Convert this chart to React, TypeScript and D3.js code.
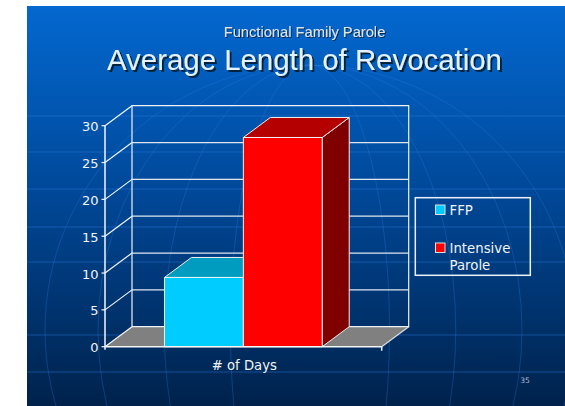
import { useEffect, useRef } from "react";
import * as d3 from "d3";

const seriesNames = ["FFP", "Intensive Parole"];
const seriesValues = [9.4, 28.4];
const categories = ["# of Days"];
const yTicks = [0, 5, 10, 15, 20, 25, 30];
const frontColors = ["#00ccff", "#ff0000"];
const topColors = ["#009cc0", "#b40000"];
const sideColors = ["#007494", "#800000"];
const bgLinesY = [116, 152, 189, 227, 262, 335, 372];

const W = 565;
const H = 406;
// front plane of the plot and the 3D depth offset
const P = { left: 105, right: 381.7, top: 125.7, bottom: 346.7 };
const DX = 27;
const DY = -20;
const FONT = "DejaVu Sans, Verdana, sans-serif";

export default function App() {
  const svgRef = useRef<SVGSVGElement | null>(null);

  useEffect(() => {
    document.body.style.margin = "0";
    const el = svgRef.current;
    if (!el) return;
    const svg = d3.select(el);
    svg.selectAll("*").remove();

    const defs = svg.append("defs");
    const grad = defs.append("linearGradient").attr("id", "bg").attr("x1", 0).attr("x2", 0).attr("y1", 0).attr("y2", 1);
    grad.append("stop").attr("offset", "0%").attr("stop-color", "#0368d0");
    grad.append("stop").attr("offset", "45%").attr("stop-color", "#00499a");
    grad.append("stop").attr("offset", "100%").attr("stop-color", "#00224c");

    const f1 = defs.append("filter").attr("id", "shadow1").attr("x", "-10%").attr("y", "-30%").attr("width", "120%").attr("height", "160%");
    f1.append("feDropShadow").attr("dx", 1).attr("dy", 1).attr("stdDeviation", 0.3)
      .attr("flood-color", "#001a33").attr("flood-opacity", 0.85);
    const f2 = defs.append("filter").attr("id", "shadow2").attr("x", "-10%").attr("y", "-30%").attr("width", "120%").attr("height", "160%");
    f2.append("feDropShadow").attr("dx", 2).attr("dy", 2).attr("stdDeviation", 0.5)
      .attr("flood-color", "#001a33").attr("flood-opacity", 0.9);

    svg.append("rect").attr("width", W).attr("height", H).attr("fill", "#ffffff");
    svg.append("rect").attr("x", 27).attr("y", 6).attr("width", W - 27).attr("height", H - 6).attr("fill", "url(#bg)");

    // faint globe lines in the background
    defs.append("clipPath").attr("id", "slideClip").append("rect")
      .attr("x", 27).attr("y", 6).attr("width", W - 27).attr("height", H - 6);
    const bg = svg.append("g").attr("clip-path", "url(#slideClip)");
    bgLinesY.forEach(y => {
      bg.append("line").attr("x1", 27).attr("x2", W).attr("y1", y).attr("y2", y)
        .attr("stroke", "#2a7ee0").attr("stroke-opacity", 0.45).attr("stroke-width", 1);
    });
    const cx = 310, cy = 330, R = 265;
    [1, 0.8, 0.55, 0.3].forEach(k => {
      bg.append("ellipse").attr("cx", cx).attr("cy", cy).attr("rx", R * k).attr("ry", R)
        .attr("fill", "none").attr("stroke", "#2a7ee0").attr("stroke-opacity", 0.3).attr("stroke-width", 1);
    });

    const y = d3.scaleLinear().domain([0, 30]).range([P.bottom, P.top]);
    const x0 = d3.scaleBand().domain(categories).range([P.left, P.right]).paddingInner(0).paddingOuter(0.377);
    const x1 = d3.scaleBand().domain(seriesNames).range([0, x0.bandwidth()]).padding(0);

    const poly = (pts: [number, number][]) => "M" + pts.map(p => p.join(",")).join("L") + "Z";

    // floor
    svg.append("path")
      .attr("d", poly([[P.left, P.bottom], [P.right, P.bottom], [P.right + DX, P.bottom + DY], [P.left + DX, P.bottom + DY]]))
      .attr("fill", "#808080");

    const grid = svg.append("g").attr("stroke-width", 1.2);
    // back wall gridlines and side wall diagonals
    yTicks.forEach(t => {
      const yy = y(t);
      if (t > 0 && t < 30) {
        grid.append("line").attr("x1", P.left + DX).attr("x2", P.right + DX)
          .attr("y1", yy + DY).attr("y2", yy + DY).attr("stroke", "#dfe6ee");
      }
      grid.append("line").attr("x1", P.left).attr("x2", P.left + DX)
        .attr("y1", yy).attr("y2", yy + DY).attr("stroke", "#f4f6f8");
      grid.append("line").attr("x1", P.left - 3.5).attr("x2", P.left)
        .attr("y1", yy).attr("y2", yy).attr("stroke", "#f4f6f8");
    });
    // back wall frame
    grid.append("path")
      .attr("d", poly([[P.left + DX, P.top + DY], [P.right + DX, P.top + DY], [P.right + DX, P.bottom + DY], [P.left + DX, P.bottom + DY]]))
      .attr("fill", "none").attr("stroke", "#eef2f6");
    grid.append("line").attr("x1", P.right + DX).attr("y1", P.bottom + DY).attr("x2", P.right).attr("y2", P.bottom)
      .attr("stroke", "#d8dde2");

    // bars
    const bars = svg.append("g").attr("stroke", "#f0f0f0").attr("stroke-width", 1).attr("stroke-linejoin", "round");
    seriesNames.forEach((s, i) => {
      const xl = (x0(categories[0]) ?? 0) + (x1(s) ?? 0);
      const xr = xl + x1.bandwidth();
      const yt = y(seriesValues[i]);
      const yb = y(0);
      bars.append("path").attr("d", poly([[xr, yt], [xr + DX, yt + DY], [xr + DX, yb + DY], [xr, yb]])).attr("fill", sideColors[i]);
      bars.append("path").attr("d", poly([[xl, yt], [xr, yt], [xr + DX, yt + DY], [xl + DX, yt + DY]])).attr("fill", topColors[i]);
      bars.append("rect").attr("x", xl).attr("y", yt).attr("width", xr - xl).attr("height", yb - yt).attr("fill", frontColors[i]);
    });

    // front axes
    const ax = svg.append("g").attr("stroke", "#f4f6f8").attr("stroke-width", 1.5);
    ax.append("line").attr("x1", P.left).attr("x2", P.left).attr("y1", P.top).attr("y2", P.bottom + 3);
    ax.append("line").attr("x1", P.left).attr("x2", P.right).attr("y1", P.bottom).attr("y2", P.bottom);
    ax.append("line").attr("x1", P.right).attr("x2", P.right).attr("y1", P.bottom).attr("y2", P.bottom + 4);

    svg.append("g").selectAll("text").data(yTicks).join("text")
      .attr("x", 98.5).attr("y", d => y(d) + 5.5).attr("text-anchor", "end")
      .attr("font-family", FONT).attr("font-size", 13).attr("fill", "#f2f4f6")
      .text(d => d);

    svg.append("text").attr("x", (x0(categories[0]) ?? 0) + x0.bandwidth() / 2 + 1).attr("y", 370)
      .attr("text-anchor", "middle").attr("font-family", FONT).attr("font-size", 13.2).attr("fill", "#f2f4f6")
      .text(categories[0]);

    // legend
    const lg = svg.append("g");
    lg.append("rect").attr("x", 415.3).attr("y", 197.7).attr("width", 115).attr("height", 77.6)
      .attr("fill", "none").attr("stroke", "#eef2f6").attr("stroke-width", 1.5);
    const legendRows = [[["FFP"], 205], [["Intensive", "Parole"], 243]] as [string[], number][];
    legendRows.forEach(([lines, top], i) => {
      lg.append("rect").attr("x", 435.5).attr("y", top).attr("width", 9.5).attr("height", 9.5)
        .attr("fill", frontColors[i]).attr("stroke", "#e0e0e0").attr("stroke-width", 1);
      lines.forEach((t, j) => {
        lg.append("text").attr("x", 449.5).attr("y", top + 9.5 + j * 17.7)
          .attr("font-family", FONT).attr("font-size", 13.3).attr("fill", "#f2f4f6").text(t);
      });
    });

    // titles with drop shadow
    const title = (txt: string, yy: number, size: number, fill: string, filter: string) => {
      svg.append("text").attr("x", 304.5).attr("y", yy).attr("text-anchor", "middle")
        .attr("font-family", "Liberation Sans, Arial, sans-serif").attr("font-size", size)
        .attr("fill", fill).attr("filter", `url(#${filter})`).text(txt);
    };
    title("Functional Family Parole", 37.3, 14.7, "#dde4ee", "shadow1");
    title("Average Length of Revocation", 70, 29.4, "#e6f2ff", "shadow2");

    svg.append("text").attr("x", 525).attr("y", 382.7).attr("text-anchor", "middle")
      .attr("font-family", FONT).attr("font-size", 7.5).attr("fill", "#a8b8cc").text("35");
  }, []);

  return <svg ref={svgRef} width={W} height={H} style={{ display: "block", position: "absolute", left: 0, top: 0 }} />;
}
